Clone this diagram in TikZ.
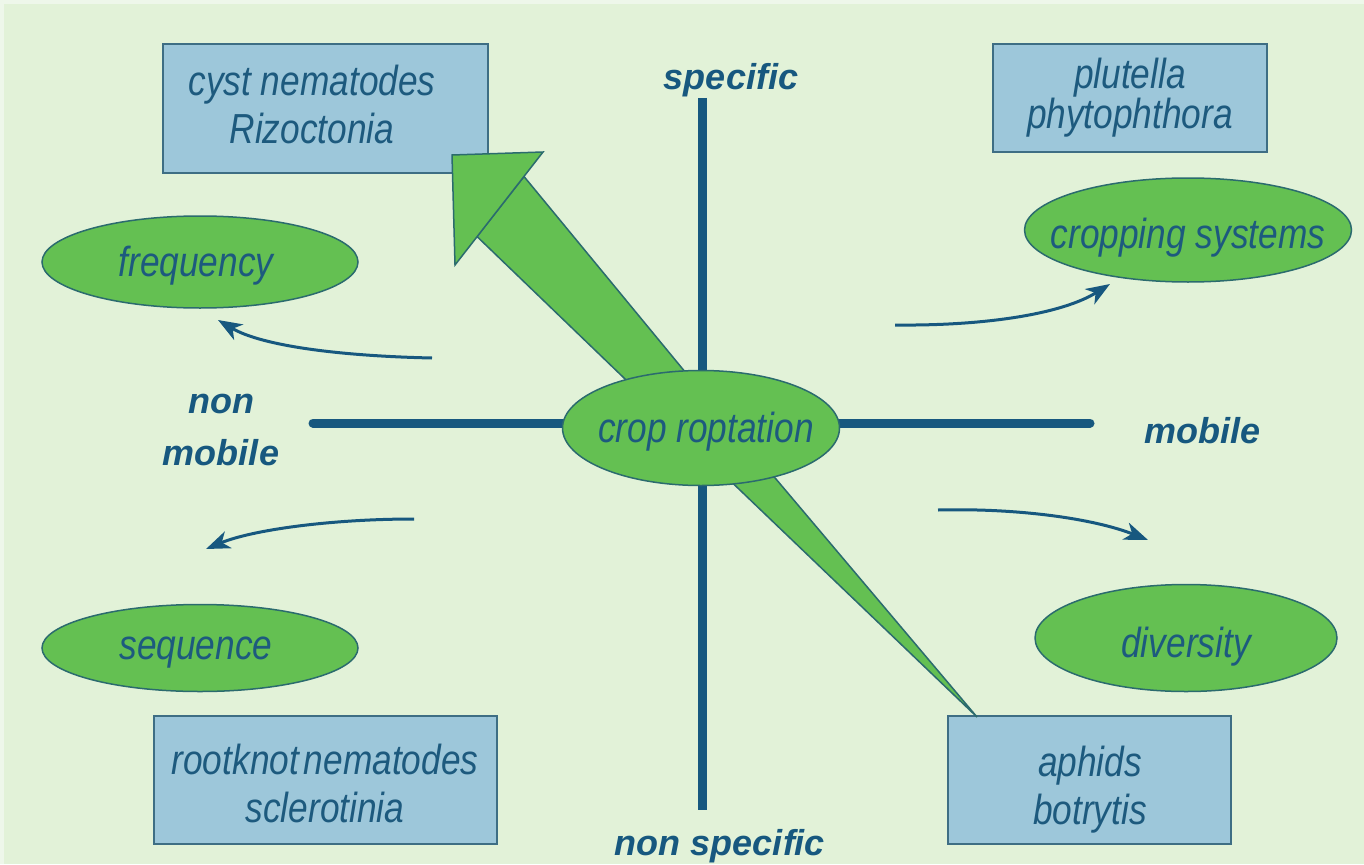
\documentclass[tikz,border=0pt]{standalone}
\usepackage{fontspec}
\setmainfont{Liberation Sans}
\newfontfamily\narrowfont[FakeStretch=0.84]{Liberation Sans}
\usetikzlibrary{shapes.geometric,arrows.meta}
\definecolor{bg}{HTML}{E2F2D8}
\definecolor{bgedge}{HTML}{EEF7EA}
\definecolor{axiscol}{HTML}{17587F}
\definecolor{txt}{HTML}{1D5A7E}
\definecolor{ellfill}{HTML}{64C052}
\definecolor{ellline}{HTML}{2B6B6E}
\definecolor{boxfill}{HTML}{9DC7DA}
\definecolor{boxline}{HTML}{3E6E84}
\tikzset{
  itext/.style={font=\narrowfont\itshape\fontsize{42}{48}\selectfont, text=txt, align=center, inner sep=0pt},
  lbl/.style={font=\bfseries\itshape\fontsize{36}{52}\selectfont, text=axiscol, align=center},
  ell/.style={ellipse, draw=ellline, line width=1.5pt, fill=ellfill, inner sep=0pt},
  boxnode/.style={rectangle, draw=boxline, line width=1.5pt, fill=boxfill, inner sep=0pt},
  axisline/.style={draw=axiscol, line width=9pt},
  carrow/.style={draw=axiscol, line width=3pt, -{Stealth[length=24pt,width=18pt,inset=7pt]}},
  bigarrow/.style={fill=ellfill, draw=ellline, line width=1.5pt, line join=miter}
}
\begin{document}
\begin{tikzpicture}[x=1pt,y=-1pt]
\fill[bgedge] (0,0) rectangle (1364,864);
\fill[bg] (4,4) rectangle (1364,864);
\useasboundingbox (0,0) rectangle (1364,864);

% axes
\coordinate (vt) at (702,98);
\coordinate (vb) at (702,810);
\coordinate (hl) at (313,423);
\coordinate (hr) at (1090,423);
\draw[axisline] (vt) -- (vb);
\draw[axisline, line cap=round] (hl) -- (hr);

% boxes
\node[boxnode, minimum width=325pt, minimum height=129pt] (cyst) at (325.5,108.5) {};
\node[itext] (cystt) at (312,104) {cyst nematodes\\Rizoctonia};
\node[boxnode, minimum width=274pt, minimum height=108pt] (plut) at (1130,98) {};
\node[itext, font=\narrowfont\itshape\fontsize{42}{38}\selectfont] (plutt) at (1130,98) {plutella\\phytophthora};
\node[boxnode, minimum width=343pt, minimum height=128pt] (root) at (325.5,780) {};
\node[itext] (roott) at (325,783) {rootknot\kern-5pt\ nematodes\\sclerotinia};
\node[boxnode, minimum width=283pt, minimum height=128pt] (aph) at (1089.5,780) {};
\node[itext] (apht) at (1090,790) {aphids\\botrytis};

% narrow wedge to aphids
\coordinate (w1) at (719,470);
\coordinate (w2) at (765,466);
\coordinate (wt) at (977,717);
\filldraw[bigarrow] (w1) -- (w2) -- (wt) -- cycle;

% big arrow to cyst box
\coordinate (s1) at (650,403);
\coordinate (s2) at (477,236.5);
\coordinate (s3) at (524,176.5);
\coordinate (s4) at (700,390);
\filldraw[bigarrow] (s1) -- (s2) -- (s3) -- (s4) -- cycle;
\coordinate (h1) at (452,155);
\coordinate (h2) at (543,152);
\coordinate (h3) at (455,265);
\filldraw[bigarrow] (h1) -- (h2) -- (h3) -- cycle;

% central ellipse
\node[ell, minimum width=277pt, minimum height=115pt] (c) at (701,428) {};
\node[itext] (ct) at (706,432) {crop roptation};

% ellipses
\node[ell, minimum width=316pt, minimum height=92pt] (freq) at (200,262) {};
\node[itext] (freqt) at (196,266) {frequency};
\node[ell, minimum width=327pt, minimum height=104pt] (crop) at (1188,230) {};
\node[itext] (cropt) at (1188,238) {cropping systems};
\node[ell, minimum width=316pt, minimum height=87pt] (seq) at (200,648) {};
\node[itext] (seqt) at (196,653) {sequence};
\node[ell, minimum width=302pt, minimum height=107pt] (div) at (1186,638) {};
\node[itext] (divt) at (1186,647) {diversity};

% axis labels
\node[lbl] (spec) at (731,80) {specific};
\node[lbl] (nspec) at (720,846) {non specific};
\node[lbl] (mob) at (1202,431) {mobile};
\node[lbl] (nmob) at (221,430) {non\\mobile};

% curved arrows
\coordinate (a1s) at (432,358);
\coordinate (a1e) at (218,320);
\draw[carrow] (a1s) .. controls (340,356) and (262,346) .. (a1e);
\coordinate (a2s) at (414,519);
\coordinate (a2e) at (206,549);
\draw[carrow] (a2s) .. controls (330,519) and (252,530) .. (a2e);
\coordinate (a3s) at (895,325);
\coordinate (a3e) at (1110,284);
\draw[carrow] (a3s) .. controls (985,326) and (1062,314) .. (a3e);
\coordinate (a4s) at (938,510);
\coordinate (a4e) at (1148,540);
\draw[carrow] (a4s) .. controls (1015,508) and (1092,518) .. (a4e);
\end{tikzpicture}
\end{document}
